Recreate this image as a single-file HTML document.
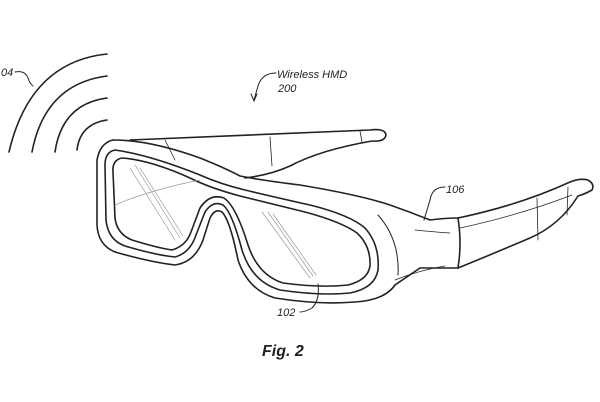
<!DOCTYPE html>
<html><head><style>html,body{margin:0;padding:0;background:#fff}svg{display:block}</style></head>
<body>
<svg width="600" height="402" viewBox="0 0 600 402" xmlns="http://www.w3.org/2000/svg" font-family="Liberation Sans, sans-serif">
<g fill="none" stroke="#222" stroke-width="1.6" stroke-linecap="round">
<!-- waves -->
<path d="M107,54 Q30,62 9,152"/>
<path d="M107,76 Q45,84 32,152"/>
<path d="M107,98 Q62,104 55,152"/>
<path d="M107,120 Q80,124 77,150"/>
<path d="M15,72 Q25,70 28,78 Q30,84 33,86" stroke-width="1"/>
<!-- label arrow 200 -->
<path d="M276,73 Q262,73 258,86 L254,100" stroke-width="1"/>
<path d="M251,94 L254,101 L257,94" stroke-width="1"/>
<!-- back arm -->
<path d="M130,140 Q250,135 370,130 Q385,128 386,135 Q385,142 372,141 Q320,150 290,166 Q270,175 245,178"/>
<path d="M360,131 L362,142 M270,137 L272,166 M165,140 L175,160" stroke-width="0.8"/>
<!-- front frame outer -->
<path d="M113,140 Q100,143 97,160 L97,225 Q98,245 115,252 Q150,262 175,265 Q195,262 203,240 L210,218 Q215,208 222,212 Q230,220 238,260 Q248,290 275,298 Q320,305 355,302 Q385,300 395,285 L420,268 Q445,268 458,268"/>
<path d="M113,140 Q150,140 200,158 Q225,168 240,176 Q260,180 300,185 Q360,195 390,205 Q410,212 430,220 Q445,218 458,218"/>
<!-- inner frame -->
<path d="M115,150 Q105,152 105,165 L106,220 Q108,240 125,246 Q155,255 175,257 Q190,253 196,235 L205,212 Q213,200 223,205 Q232,212 242,250 Q252,282 280,290 Q320,296 350,293 Q375,288 378,270 Q380,245 365,228 Q350,215 310,205 Q270,196 245,190 Q220,184 200,175 Q150,155 115,150"/>
<path d="M122,158 Q112,160 113,172 L115,218 Q117,234 132,240 Q158,248 172,250 Q186,246 191,232 L200,208 Q210,193 224,198 Q236,206 248,245 Q258,275 283,283 Q320,288 348,285 Q368,280 370,266 Q371,246 357,233 Q342,222 305,212 Q268,203 240,196 Q210,188 190,178 Q150,160 122,158"/>
<!-- right side of front / arm join -->
<path d="M378,215 Q400,240 398,275" stroke-width="1"/>
<path d="M458,218 Q462,243 458,268"/>
<path d="M458,218 Q520,205 570,182 Q580,178 588,180 Q595,184 592,190 Q585,194 578,196 Q560,225 530,238 Q490,255 458,268"/>
<path d="M537,198 L538,240 M568,187 L567,215" stroke-width="0.8"/>
<path d="M460,228 Q520,215 572,195" stroke-width="0.7"/>
<path d="M415,230 Q435,232 450,233 M395,280 Q420,270 445,266" stroke-width="0.7"/>
<!-- lens reflections -->
<g stroke="#999" stroke-width="0.7">
<path d="M130,168 L175,240 M135,165 L180,238 M140,168 L183,236"/>
<path d="M262,212 L310,278 M268,212 L313,276 M273,214 L316,275"/>
<path d="M115,205 Q150,190 200,180"/>
</g>
<!-- leaders -->
<path d="M445,187 Q432,187 430,200 L424,220" stroke-width="1"/>
<path d="M318,284 Q320,300 312,308 Q305,312 300,312" stroke-width="1"/>
</g>
<g fill="#222" font-style="italic" font-size="11">
<text x="1" y="76">04</text>
<text x="277" y="78">Wireless HMD</text>
<text x="278" y="92">200</text>
<text x="446" y="193">106</text>
<text x="277" y="316">102</text>
</g>
<text x="262" y="356" font-size="16" font-weight="bold" font-style="italic" fill="#222">Fig. 2</text>
</svg>
</body></html>
